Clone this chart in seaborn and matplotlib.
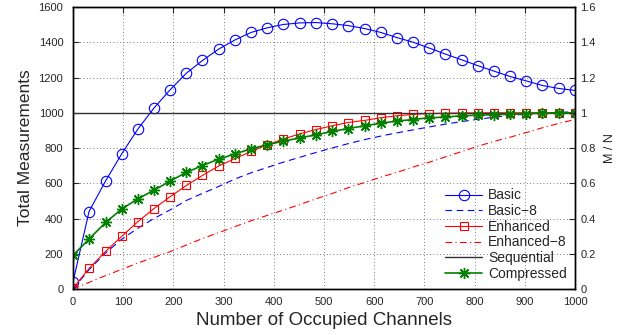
import numpy as np
import pandas as pd
import seaborn as sns
import matplotlib
matplotlib.use("Agg")
import matplotlib.pyplot as plt

# number of occupied channels (marker positions)
channels = [0, 32, 65, 97, 129, 161, 194, 226, 258, 290, 323, 355, 387, 419, 452, 484,
            516, 548, 581, 613, 645, 677, 710, 742, 774, 806, 839, 871, 903, 935, 968, 1000]

basic = [40, 440, 614, 767, 907, 1026, 1132, 1225, 1297, 1361, 1414, 1456, 1482, 1501, 1510, 1512,
         1505, 1495, 1478, 1456, 1427, 1401, 1367, 1333, 1301, 1268, 1236, 1206, 1181, 1155, 1138, 1127]
basic_8 = [0, 110, 205, 283, 345, 400, 450, 503, 543, 582, 625, 660, 690, 720, 748, 775,
           800, 825, 848, 868, 886, 903, 920, 936, 950, 963, 975, 985, 993, 999, 1003, 1005]
enhanced = [5, 117, 214, 299, 382, 456, 525, 588, 645, 698, 741, 781, 819, 851, 881, 905,
            926, 945, 957, 972, 983, 991, 996, 998, 999, 1000, 1000, 1000, 1000, 1000, 1000, 1000]
enhanced_8 = [0, 38, 77, 112, 148, 180, 213, 250, 287, 320, 355, 388, 418, 448, 480, 512,
              542, 575, 605, 635, 662, 692, 720, 750, 780, 810, 838, 862, 888, 915, 940, 962]
sequential = [1000] * 32
compressed = [191, 284, 378, 454, 512, 560, 614, 662, 701, 737, 767, 796, 819, 839, 858, 875,
              894, 911, 926, 941, 953, 962, 972, 976, 983, 987, 989, 992, 996, 998, 1000, 1000]

df = pd.DataFrame({
    "x": channels,
    "Basic": basic,
    "Basic\u22128": basic_8,
    "Enhanced": enhanced,
    "Enhanced\u22128": enhanced_8,
    "Sequential": sequential,
    "Compressed": compressed,
})

sns.set_style("white")
plt.rcParams['font.family'] = ['Liberation Sans', 'DejaVu Sans']

fig = plt.figure(figsize=(6.27, 3.35), dpi=100)
ax = fig.add_axes([0.1164, 0.137, 0.8006, 0.842])

sns.lineplot(data=df, x="x", y="Basic", ax=ax, color="blue", lw=0.8, marker="o",
             markersize=7.5, markerfacecolor="none", markeredgecolor="blue",
             markeredgewidth=0.8, label="Basic")
sns.lineplot(data=df, x="x", y="Basic\u22128", ax=ax, color="blue", lw=0.8,
             label="Basic\u22128")
ax.lines[-1].set_dashes([6, 4])
sns.lineplot(data=df, x="x", y="Enhanced", ax=ax, color="red", lw=0.8, marker="s",
             markersize=6, markerfacecolor="none", markeredgecolor="red",
             markeredgewidth=0.8, label="Enhanced")
sns.lineplot(data=df, x="x", y="Enhanced\u22128", ax=ax, color="red", lw=0.8,
             label="Enhanced\u22128")
ax.lines[-1].set_dashes([6, 3, 1, 3])
sns.lineplot(data=df, x="x", y="Sequential", ax=ax, color="#333333", lw=1.0,
             label="Sequential")
sns.lineplot(data=df, x="x", y="Compressed", ax=ax, color="green", lw=1.2, marker=(8, 2, 0),
             markersize=8, markerfacecolor="green", markeredgecolor="green",
             markeredgewidth=1.0, label="Compressed")

ax.set_xlim(0, 1000)
ax.set_ylim(0, 1600)
ax.set_xticks(np.arange(0, 1001, 100))
ax.set_yticks(np.arange(0, 1601, 200))
ax.set_xlabel("Number of Occupied Channels", fontsize=13.5, labelpad=3)
ax.set_ylabel("Total Measurements", fontsize=12.5, labelpad=4)
ax.tick_params(direction="in", labelsize=8, length=4, width=0.8, top=True)
ax.tick_params(axis="x", pad=6)
ax.tick_params(axis="y", pad=7)
ax.grid(True, linestyle=(0, (1, 3)), color="black", linewidth=0.6, alpha=0.7)
for s in ax.spines.values():
    s.set_color("black")
    s.set_linewidth(1.0)

ax2 = ax.twinx()
ax2.set_ylim(0, 1.6)
ax2.set_yticks(np.arange(0, 1.61, 0.2))
ax2.set_yticklabels(["0", "0.2", "0.4", "0.6", "0.8", "1", "1.2", "1.4", "1.6"])
ax2.set_ylabel("M / N", fontsize=9, labelpad=6)
ax2.tick_params(direction="in", labelsize=8, length=4, width=0.8, pad=4)
for s in ax2.spines.values():
    s.set_color("black")
    s.set_linewidth(1.0)

leg = ax.legend(loc="lower right", fontsize=10, frameon=False, handlelength=2.7,
                handletextpad=0.4, labelspacing=0.12, borderaxespad=0.2,
                bbox_to_anchor=(1.0, 0.0))

fig.savefig("out.png", dpi=100)
